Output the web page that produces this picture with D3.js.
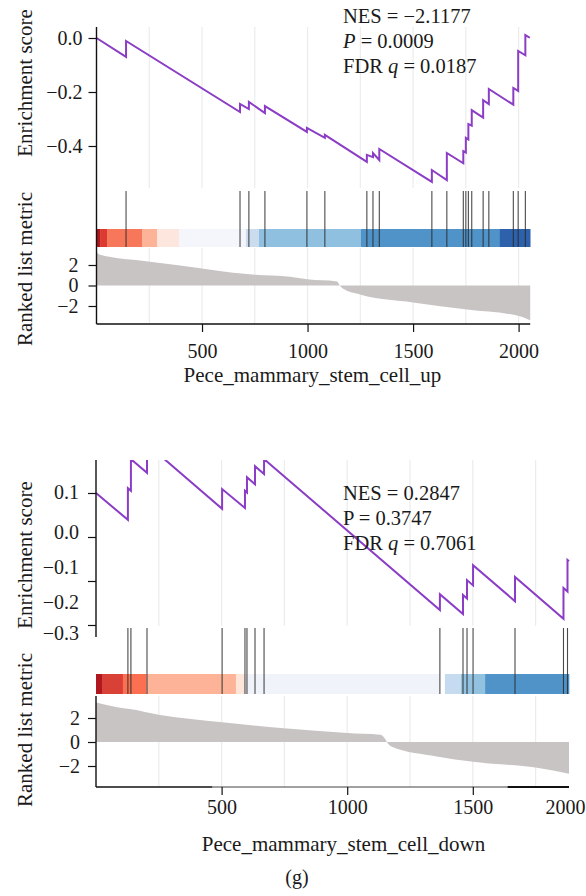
<!DOCTYPE html>
<html><head><meta charset="utf-8">
<script src="https://cdn.jsdelivr.net/npm/d3@7"></script>
<style>
body{margin:0;background:#fff}
svg{display:block}
text{font-family:"Liberation Serif","Times New Roman",serif;fill:#1a1a1a}
</style>
</head><body>
<svg id="c" width="586" height="896"></svg>
<script>
// ---------------- DATA ----------------
// Panel 1: Pece_mammary_stem_cell_up
const N1 = 2055;
const xTicks1 = [500, 1000, 1500, 2000];
const gridX1 = [250, 500, 750, 1000, 1250, 1500, 1750, 2000];
const esTicks1 = [0, -0.2, -0.4];
const metricTicks1 = [2, 0, -2];
const esRank1 = [0, 140, 140, 680, 680, 722, 722, 798, 798, 997, 997, 1082, 1082, 1281, 1281, 1310, 1310, 1340, 1340, 1589, 1589, 1660, 1660, 1738, 1738, 1750, 1750, 1762, 1762, 1778, 1778, 1832, 1832, 1859, 1859, 1975, 1975, 1998, 1998, 2032, 2032, 2053];
const esValue1 = [0, -0.070, -0.011, -0.274, -0.244, -0.263, -0.237, -0.278, -0.252, -0.348, -0.333, -0.370, -0.359, -0.459, -0.433, -0.441, -0.426, -0.452, -0.411, -0.533, -0.489, -0.526, -0.426, -0.464, -0.419, -0.424, -0.370, -0.376, -0.319, -0.325, -0.267, -0.295, -0.230, -0.245, -0.189, -0.247, -0.185, -0.196, -0.048, -0.064, 0.011, 0.001];
const hits1 = [140, 680, 722, 798, 997, 1082, 1281, 1310, 1340, 1589, 1660, 1738, 1750, 1762, 1778, 1832, 1859, 1975, 1998, 2032];
const bandStart1 = [0, 17, 50, 216, 287, 391, 708, 770, 1253, 1911];
const bandColor1 = ["#b0181f", "#dc3a30", "#f6775a", "#fcb398", "#fde6de", "#f4f6fb", "#cbdcee", "#8fc0e0", "#4f93c9", "#2d61ab"];
const metricRank1 = [0, 17, 244, 396, 500, 647, 751, 917, 998, 1140, 1153, 1167, 1253, 1500, 1756, 2006, 2055];
const metricValue1 = [3.3, 3.0, 2.35, 1.95, 1.65, 1.25, 1.05, 0.85, 0.6, 0.4, 0.0, -0.3, -0.9, -1.65, -2.35, -3.0, -3.4];
const stats1 = {nes: "−2.1177", p: "0.0009", q: "0.0187"};

// Panel 2: Pece_mammary_stem_cell_down
const N2 = 1883;
const xTicks2 = [500, 1000, 1500];
const xEndLabel2 = "2000";
const gridX2 = [250, 500, 750, 1000, 1250, 1500, 1750];
const esTicks2 = [0.1, 0, -0.1, -0.2];
const esLabels2 = ["0.1", "0.0", "−0.1", "−0.2", "−0.3"];
const esLabelVals2 = [0.1, 0.0, -0.1, -0.2, -0.3];
const metricTicks2 = [2, 0, -2];
const esRank2 = [0, 127, 127, 139, 139, 203, 203, 502, 502, 593, 593, 601, 601, 633, 633, 669, 669, 1369, 1369, 1461, 1461, 1477, 1477, 1501, 1501, 1668, 1668, 1861, 1861, 1877, 1877, 1883];
const esValue2 = [0.100, 0.039, 0.111, 0.105, 0.177, 0.146, 0.211, 0.064, 0.109, 0.066, 0.105, 0.101, 0.136, 0.120, 0.161, 0.143, 0.177, -0.166, -0.130, -0.175, -0.132, -0.140, -0.098, -0.110, -0.064, -0.146, -0.091, -0.186, -0.116, -0.124, -0.052, -0.055];
const hits2 = [127, 139, 203, 502, 593, 601, 633, 669, 1369, 1461, 1477, 1501, 1668, 1861, 1877];
const bandStart2 = [0, 24, 107, 199, 557, 593, 1369, 1389, 1453, 1549];
const bandColor2 = ["#b0181f", "#d94036", "#fa7050", "#fcb398", "#fee5d9", "#f1f3fa", "#ffffff", "#c6dbef", "#92c2e0", "#4f93c9"];
const metricRank2 = [0, 84, 135, 255, 502, 748, 1000, 1131, 1150, 1163, 1178, 1357, 1501, 1756, 1883];
const metricValue2 = [3.3, 2.9, 2.75, 2.25, 1.65, 1.15, 0.75, 0.6, 0.3, -0.15, -0.4, -1.2, -1.65, -2.15, -2.65];
const stats2 = {nes: "0.2847", p: "0.3747", q: "0.7061"};

// ---------------- DRAW ----------------
const svg = d3.select("#c");
const purple = "#8b3dc6";
const grey = "#c8c4c4";
const gridCol = "#ececec";

function styleAxis(g) {
  g.select(".domain").remove();
  g.selectAll(".tick line").attr("stroke", "#111").attr("stroke-width", 1.2);
  g.selectAll(".tick text").style("font-size", "20px").attr("fill", "#1a1a1a");
}

function drawPanel(o) {
  const g = svg.append("g");
  const x = o.x;
  // grid lines
  [[o.esTop, o.esBottom], [o.mTop, o.mBottom]].forEach(([a, b]) => {
    g.selectAll(null).data(o.gridX).enter().append("line")
      .attr("x1", d => x(d)).attr("x2", d => x(d)).attr("y1", a).attr("y2", b)
      .attr("stroke", gridCol).attr("stroke-width", 1.2);
  });
  // color band
  const bands = o.bandStart.map((s, i) => ({s, e: i < o.bandStart.length - 1 ? o.bandStart[i + 1] : o.N, c: o.bandColor[i]}));
  g.selectAll(null).data(bands).enter().append("rect")
    .attr("x", d => x(d.s)).attr("width", d => x(d.e) - x(d.s) + 0.3)
    .attr("y", o.bandTop).attr("height", o.bandBottom - o.bandTop).attr("fill", d => d.c);
  // hits
  g.selectAll(null).data(o.hits).enter().append("line")
    .attr("x1", d => x(d)).attr("x2", d => x(d)).attr("y1", o.barTop).attr("y2", o.bandBottom)
    .attr("stroke", "#2a2a2a").attr("stroke-opacity", 0.85).attr("stroke-width", 1.1);
  // metric area
  const mPts = o.metricRank.map((r, i) => [r, o.metricValue[i]]);
  g.append("path").datum(mPts)
    .attr("d", d3.area().x(d => x(d[0])).y0(o.mY(0)).y1(d => o.mY(d[1])).curve(d3.curveMonotoneX))
    .attr("fill", grey);
  // ES line
  const clipId = "clip" + o.id;
  svg.append("clipPath").attr("id", clipId).append("rect")
    .attr("x", x(0) - 2).attr("y", o.esTop).attr("width", x(o.N) - x(0) + 6).attr("height", o.esBottom - o.esTop + 4);
  const esPts = o.esRank.map((r, i) => [r, o.esValue[i]]);
  g.append("path").datum(esPts)
    .attr("clip-path", `url(#${clipId})`)
    .attr("d", d3.line().x(d => x(d[0])).y(d => o.esY(d[1])))
    .attr("fill", "none").attr("stroke", purple).attr("stroke-width", 2).attr("stroke-linejoin", "miter");
  // ES axis (left)
  const esAx = g.append("g").attr("transform", `translate(${x(0)},0)`)
    .call(d3.axisLeft(o.esY).tickValues(o.esTicks).tickSize(8).tickPadding(o.esPad)
      .tickFormat(o.esLabels ? () => "" : (d => d3.format(".1f")(d).replace("-", "−"))));
  styleAxis(esAx);
  if (o.esLabels) {
    g.selectAll(null).data(o.esLabels).enter().append("text")
      .attr("x", x(0) - 17).attr("y", (d, i) => o.esLabelY(o.esLabelVals[i]))
      .attr("dy", "0.34em").attr("text-anchor", "end").style("font-size", "20px").text(d => d);
  }
  // metric axis
  const mAx = g.append("g").attr("transform", `translate(${x(0)},0)`)
    .call(d3.axisLeft(o.mY).tickValues(o.mTicks).tickSize(8).tickPadding(o.mPad)
      .tickFormat(d => String(d).replace("-", "−")));
  styleAxis(mAx);
  // left vertical lines
  o.leftLines.forEach(([a, b]) => g.append("line").attr("x1", x(0)).attr("x2", x(0)).attr("y1", a).attr("y2", b)
    .attr("stroke", "#111").attr("stroke-width", 1.4));
  // bottom axis
  const xAx = g.append("g").attr("transform", `translate(0,${o.mBottom})`)
    .call(d3.axisBottom(x).tickValues(o.xTicks).tickSize(8).tickPadding(o.xPad).tickFormat(d3.format("d")));
  styleAxis(xAx);
  o.bottomLines.forEach(([a, b, w]) => g.append("line").attr("x1", x(a)).attr("x2", x(b))
    .attr("y1", o.mBottom).attr("y2", o.mBottom).attr("stroke", "#111").attr("stroke-width", w));
  if (o.endLabel) {
    g.append("text").attr("x", x(o.N) - 3.5).attr("y", o.mBottom + 8 + o.xPad).attr("dy", "0.71em")
      .attr("text-anchor", "middle").style("font-size", "20px").text(o.endLabel);
  }
  // titles
  g.append("text").attr("transform", `translate(32,${o.esTitleY}) rotate(-90)`).attr("text-anchor", "middle")
    .style("font-size", "21px").text("Enrichment score");
  g.append("text").attr("transform", `translate(32,${o.mTitleY}) rotate(-90)`).attr("text-anchor", "middle")
    .style("font-size", "21px").text("Ranked list metric");
  g.append("text").attr("x", o.xTitleX).attr("y", o.xTitleY).attr("text-anchor", "middle")
    .style("font-size", "21px").text(o.xTitle);
  // stats
  const s = o.stats;
  const t1 = g.append("text").attr("x", 343).attr("y", o.statY).style("font-size", "20.5px");
  t1.text("NES = " + s.nes);
  const t2 = g.append("text").attr("x", 343).attr("y", o.statY + 25).style("font-size", "20.5px");
  t2.append("tspan").style("font-style", o.pItalic ? "italic" : "normal").text("P");
  t2.append("tspan").text(" = " + s.p);
  const t3 = g.append("text").attr("x", 343).attr("y", o.statY + 50).style("font-size", "20.5px");
  t3.append("tspan").text("FDR ");
  t3.append("tspan").style("font-style", "italic").text("q");
  t3.append("tspan").text(" = " + s.q);
}

drawPanel({
  id: 1, N: N1,
  x: d3.scaleLinear().domain([0, 2000]).range([96.5, 518.6]),
  gridX: gridX1, xTicks: xTicks1, xPad: 12,
  esY: d3.scaleLinear().domain([0, -0.4]).range([38, 146]), esTicks: esTicks1, esPad: 6,
  esTop: 27, esBottom: 188,
  barTop: 191, bandTop: 229, bandBottom: 247,
  mY: d3.scaleLinear().domain([2, -2]).range([265, 306]), mTicks: metricTicks1, mPad: 10,
  mTop: 248, mBottom: 324,
  leftLines: [[27, 324]], bottomLines: [[0, N1, 1.4]],
  hits: hits1, bandStart: bandStart1, bandColor: bandColor1,
  metricRank: metricRank1, metricValue: metricValue1,
  esRank: esRank1, esValue: esValue1,
  esTitleY: 83, mTitleY: 269, xTitle: "Pece_mammary_stem_cell_up", xTitleX: 312.5, xTitleY: 382,
  stats: stats1, statY: 23, pItalic: true
});

drawPanel({
  id: 2, N: N2,
  x: d3.scaleLinear().domain([0, 1000]).range([96, 347.2]),
  gridX: gridX2, xTicks: xTicks2, xPad: 5, endLabel: xEndLabel2,
  esY: d3.scaleLinear().domain([0.1, 0]).range([493, 537]), esTicks: esTicks2, esPad: 9,
  esLabels: esLabels2, esLabelVals: esLabelVals2,
  esLabelY: d3.scaleLinear().domain([0.1, 0, -0.1, -0.2, -0.3]).range([492, 532, 567, 602, 633]),
  esTop: 460, esBottom: 626,
  barTop: 628, bandTop: 674, bandBottom: 694,
  mY: d3.scaleLinear().domain([2, -2]).range([718, 766]), mTicks: metricTicks2, mPad: 8,
  mTop: 696, mBottom: 787,
  leftLines: [[460, 637], [696, 787]], bottomLines: [[0, 463, 1.6], [463, 1638, 0.8], [1638, N2, 1.8]],
  hits: hits2, bandStart: bandStart2, bandColor: bandColor2,
  metricRank: metricRank2, metricValue: metricValue2,
  esRank: esRank2, esValue: esValue2,
  esTitleY: 555, mTitleY: 730, xTitle: "Pece_mammary_stem_cell_down", xTitleX: 343.5, xTitleY: 851,
  stats: stats2, statY: 500, pItalic: false
});

svg.append("text").attr("x", 297).attr("y", 884).attr("text-anchor", "middle").style("font-size", "20px").text("(g)");
</script>
</body></html>
